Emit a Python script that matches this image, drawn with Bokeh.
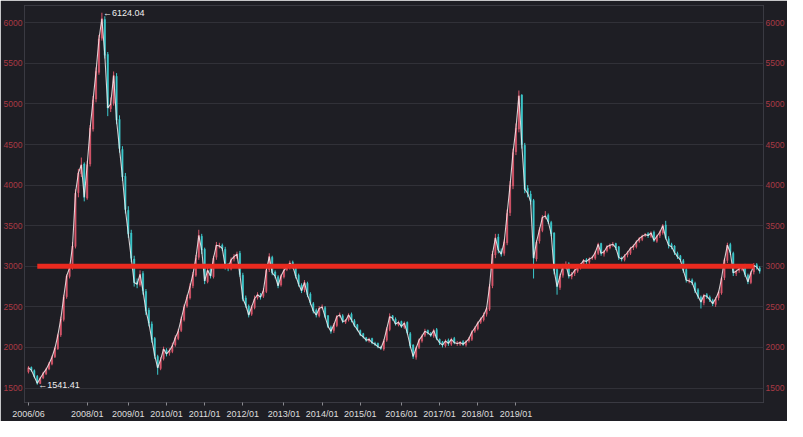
import numpy as np
from bokeh.plotting import figure
from bokeh.models import ColumnDataSource, FixedTicker, LinearAxis, Range1d
from bokeh.core.properties import value
from bokeh.embed import file_html
from bokeh.resources import INLINE

# ---------------- data (weekly-ish candles) ----------------
close_vals = [
    1750,1720,1640,1560,1620,1680,1730,1800,1880,1990,
    2150,2350,2620,2880,2980,3250,3900,4150,4250,3850,
    4250,4700,5050,5400,5800,6050,5600,4950,5000,5350,
    4800,4450,4100,3700,3400,3100,2800,2780,2900,2700,
    2450,2300,2100,1900,1750,1850,1980,1920,1960,2020,
    2120,2200,2350,2500,2620,2750,2900,3100,3380,3200,
    2820,2950,2880,3100,3260,3250,3220,3000,2980,3080,
    3120,3150,2900,2600,2520,2400,2500,2600,2650,2620,
    2700,2950,3120,2920,2880,2760,2880,2950,2990,3040,
    3000,2880,2780,2700,2800,2650,2550,2450,2400,2480,
    2500,2380,2260,2200,2280,2380,2400,2320,2330,2400,
    2340,2270,2220,2160,2130,2090,2100,2060,2040,2010,
    1990,2080,2230,2380,2360,2290,2310,2260,2300,2180,
    2020,1890,1990,2090,2140,2200,2180,2150,2210,2110,
    2060,2030,2080,2050,2100,2060,2050,2060,2040,2070,
    2110,2190,2240,2300,2350,2400,2480,2750,3150,3350,
    3200,3150,3300,3650,4000,4400,4700,5100,4500,3950,
    3900,3800,3100,3300,3450,3600,3620,3550,3400,2950,
    2750,2880,3000,3020,2880,2900,2950,2980,3020,3070,
    3060,3090,3110,3170,3270,3160,3180,3240,3260,3270,
    3230,3110,3090,3130,3170,3220,3250,3300,3340,3370,
    3390,3380,3410,3320,3370,3420,3500,3350,3260,3240,
    3170,3120,3080,2950,2830,2820,2800,2700,2630,2560,
    2640,2630,2590,2540,2600,2680,2850,3080,3260,3170,
    2920,2940,2970,3000,2900,2810,2920,3010,2990,2940,
]
open_vals = [
    1700,1755,1715,1645,1555,1625,1675,1735,1795,1885,
    1985,2155,2345,2625,2875,2985,3245,3905,4140,4260,
    3840,4260,4690,5060,5390,5810,6040,5610,4940,5010,
    5340,4810,4440,4110,3690,3410,3090,2810,2770,2910,
    2690,2460,2290,2110,1890,1740,1860,1970,1930,1950,
    2030,2110,2210,2340,2510,2610,2760,2890,3110,3370,
    3210,2810,2960,2870,3110,3250,3260,3210,3010,2970,
    3090,3110,3160,2890,2610,2510,2410,2490,2610,2640,
    2630,2690,2960,3110,2930,2870,2770,2870,2960,2980,
    3050,2990,2890,2770,2710,2790,2660,2540,2460,2390,
    2490,2490,2390,2250,2210,2270,2390,2390,2310,2340,
    2410,2330,2280,2210,2170,2120,2080,2110,2050,2050,
    2000,1980,2090,2220,2390,2350,2280,2320,2250,2310,
    2170,2030,1880,2000,2080,2150,2210,2170,2140,2220,
    2100,2070,2020,2090,2040,2110,2050,2040,2070,2030,
    2080,2100,2200,2230,2310,2340,2410,2470,2760,3140,
    3360,3190,3160,3290,3660,3990,4410,4690,5110,4490,
    3960,3890,3810,3090,3310,3440,3610,3630,3540,3410,
    2960,2740,2890,2990,3030,2870,2910,2940,2990,3010,
    3080,3050,3100,3100,3160,3280,3150,3190,3230,3270,
    3280,3240,3100,3080,3140,3160,3230,3240,3310,3330,
    3380,3400,3370,3420,3310,3380,3410,3510,3340,3270,
    3250,3160,3130,3070,2960,2820,2830,2790,2710,2620,
    2550,2650,2620,2580,2530,2610,2670,2860,3070,3270,
    3160,2910,2950,2960,3010,2890,2800,2930,3020,2980,
]
high_vals = [
    1770,1765,1730,1660,1640,1700,1750,1820,1900,2010,
    2170,2380,2650,2900,3020,3300,3950,4200,4340,4280,
    4300,4740,5100,5450,5850,6124.04,6080,5640,5080,5400,
    5380,4860,4480,4150,3740,3450,3130,2850,2950,2940,
    2720,2490,2320,2130,1910,1880,2010,1990,1990,2060,
    2150,2230,2380,2530,2650,2790,2930,3140,3450,3400,
    3230,2990,2980,3130,3300,3290,3280,3240,3040,3110,
    3150,3180,3190,2920,2640,2530,2520,2640,2680,2670,
    2730,2980,3160,3130,2950,2890,2900,2980,3010,3070,
    3070,3010,2910,2790,2830,2810,2680,2560,2480,2510,
    2530,2510,2400,2270,2300,2400,2430,2410,2350,2420,
    2430,2350,2290,2220,2180,2130,2120,2120,2070,2060,
    2020,2100,2250,2420,2400,2370,2330,2330,2320,2320,
    2190,2040,2010,2110,2160,2230,2220,2190,2230,2240,
    2110,2080,2100,2110,2120,2130,2080,2080,2090,2090,
    2130,2210,2260,2320,2370,2430,2500,2780,3190,3400,
    3400,3220,3330,3700,4050,4450,4760,5166,5120,4520,
    4000,3930,3830,3320,3480,3630,3680,3650,3560,3420,
    2980,2910,3030,3060,3050,2930,2970,3000,3040,3090,
    3100,3110,3130,3190,3290,3290,3200,3260,3280,3300,
    3290,3250,3120,3150,3190,3240,3270,3320,3360,3390,
    3410,3420,3430,3440,3390,3440,3520,3560,3370,3290,
    3260,3180,3140,3090,2980,2850,2850,2810,2730,2640,
    2660,2670,2640,2600,2620,2700,2870,3100,3290,3290,
    3180,2960,2990,3020,3030,2910,2940,3040,3040,3000,
]
low_vals = [
    1680,1700,1620,1541.41,1550,1610,1660,1720,1780,1870,
    1970,2130,2320,2600,2850,2960,3220,3850,4100,3800,
    3820,4230,4660,5020,5360,5780,5560,4850,4900,4980,
    4750,4400,4050,3650,3350,3050,2750,2730,2750,2650,
    2400,2260,2060,1860,1664,1720,1840,1890,1900,1930,
    2010,2090,2190,2320,2490,2590,2730,2870,3080,3150,
    2780,2790,2850,2850,3080,3220,3190,2960,2940,2950,
    3060,3090,2870,2570,2490,2370,2390,2470,2590,2590,
    2610,2670,2930,2890,2850,2730,2750,2850,2940,2960,
    2970,2850,2750,2670,2680,2620,2520,2420,2370,2370,
    2470,2360,2240,2170,2180,2250,2370,2300,2290,2320,
    2310,2250,2200,2140,2110,2070,2060,2040,2020,1990,
    1970,1960,2070,2200,2330,2270,2260,2240,2230,2160,
    1990,1860,1850,1980,2060,2130,2160,2130,2120,2090,
    2030,2000,2000,2020,2020,2040,2020,2020,2020,2010,
    2060,2080,2180,2210,2290,2320,2380,2450,2730,3100,
    3160,3120,3130,3260,3620,3950,4370,4650,4450,3900,
    3850,3760,2850,3060,3280,3420,3580,3520,3370,2900,
    2650,2710,2860,2970,2850,2840,2880,2920,2960,2990,
    3030,3030,3080,3080,3140,3130,3120,3170,3210,3240,
    3200,3080,3060,3060,3110,3140,3200,3220,3290,3310,
    3360,3350,3350,3300,3290,3350,3390,3330,3220,3210,
    3140,3090,3050,2920,2800,2790,2770,2670,2600,2480,
    2520,2600,2560,2510,2500,2580,2650,2830,3040,3140,
    2880,2880,2920,2940,2870,2780,2780,2900,2960,2910,
]

x_tick_pos = [0, 20, 34, 47, 60, 73, 87, 100, 113, 127, 140, 153, 166]
x_tick_labels = ["2006/06", "2008/01", "2009/01", "2010/01", "2011/01", "2012/01",
                 "2013/01", "2014/01", "2015/01", "2016/01", "2017/01", "2018/01", "2019/01"]
y_ticks = [1500, 2000, 2500, 3000, 3500, 4000, 4500, 5000, 5500, 6000]
ref_level = 3000
ref_start, ref_end = 3, 247

# ---------------- styling ----------------
BG = "#1e1e24"
UP = "#d9566a"
DOWN = "#3cc9cc"
FONT = "Liberation Sans"

o = np.array(open_vals, dtype=float)
c = np.array(close_vals, dtype=float)
h = np.array(high_vals, dtype=float)
l = np.array(low_vals, dtype=float)
idx = np.arange(len(c))
colors = [UP if cc >= oo else DOWN for oo, cc in zip(o, c)]

src = ColumnDataSource(dict(x=idx, o=o, c=c, h=h, l=l, top=np.maximum(o, c),
                            bot=np.minimum(o, c), col=colors))

p = figure(width=787, height=421, output_backend="svg", toolbar_location=None,
           x_range=Range1d(-1.35, 250.3), y_range=Range1d(1322, 6213),
           background_fill_color=BG, border_fill_color=BG,
           min_border_left=22, min_border_right=24, min_border_top=5, min_border_bottom=17,
           outline_line_color="#3a3a42", outline_line_width=1)

p.xgrid.visible = False
p.ygrid.ticker = FixedTicker(ticks=y_ticks)
p.ygrid.grid_line_color = "#313138"

# left y axis
ya = p.yaxis[0]
ya.ticker = FixedTicker(ticks=y_ticks)
# right y axis
yr = LinearAxis(ticker=FixedTicker(ticks=y_ticks))
p.add_layout(yr, "right")
for ax in (ya, yr):
    ax.axis_line_color = None
    ax.major_tick_line_color = None
    ax.minor_tick_line_color = None
    ax.major_tick_in = 0
    ax.major_tick_out = 0
    ax.minor_tick_in = 0
    ax.minor_tick_out = 0
    ax.major_label_text_color = "#a93a45"
    ax.major_label_text_font = FONT
    ax.major_label_text_font_size = "8.5px"
    ax.major_label_standoff = 2

xa = p.xaxis[0]
xa.ticker = FixedTicker(ticks=x_tick_pos)
xa.major_label_overrides = {pos: lab for pos, lab in zip(x_tick_pos, x_tick_labels)}
xa.axis_line_color = None
xa.minor_tick_line_color = None
xa.major_tick_line_color = "#8a8a90"
xa.major_tick_in = 0
xa.major_tick_out = 3
xa.major_label_text_color = "#dedede"
xa.major_label_text_font = FONT
xa.major_label_text_font_size = "9px"
xa.major_label_standoff = 3

# candles
p.segment(x0="x", x1="x", y0="l", y1="h", color="col", line_width=1, source=src)
p.vbar(x="x", width=0.45, top="top", bottom="bot", fill_color="col", line_color="col",
       line_width=0.5, source=src)
p.line(idx, c, line_color="#f4ecee", line_width=1.1, line_alpha=0.85)

# reference line
p.segment(x0=[ref_start], x1=[ref_end], y0=[ref_level], y1=[ref_level],
          line_color="#ea2a1f", line_width=5)

# extreme annotations
imax = int(np.argmax(h))
imin = int(np.argmin(l))
ann = ColumnDataSource(dict(x=[imax, imin], y=[h[imax], l[imin]],
                            t=["\u2190" + f"{h[imax]:.2f}", "\u2190" + f"{l[imin]:.2f}"]))
p.text(x="x", y="y", text="t", source=ann, text_color="#f0f0f0",
       text_font=value(FONT), text_font_size="9px", text_align="left",
       text_baseline="middle", x_offset=1)

open("out.html", "w").write(file_html(p, INLINE))
